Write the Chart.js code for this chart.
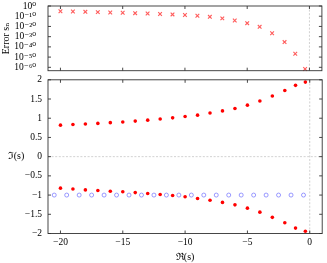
<!DOCTYPE html>
<html><head><meta charset="utf-8">
<script src="https://cdn.jsdelivr.net/npm/chart.js@4"></script>
<style>
html,body{margin:0;padding:0;background:#fff;}
#wrap{position:relative;width:327px;height:263px;overflow:hidden;background:#fff}
#c1{position:absolute;left:0;top:0}
#c2{position:absolute;left:0;top:75px}
</style></head><body>
<div id="wrap"><canvas id="c1" width="327" height="78"></canvas><canvas id="c2" width="327" height="188"></canvas></div>
<script>
// ---- data ----
const zeroRe = [-20,-19,-18,-17,-16,-15,-14,-13,-12,-11,-10,-9,-8,-7,-6,-5,-4,-3,-2,-1.14,-0.35];
const errVals = [8e-6,4e-6,2e-6,1e-6,5e-7,2.5e-7,1e-7,4e-8,1.6e-8,6e-9,1.6e-9,2.5e-10,2.5e-11,8e-13,6e-15,1.6e-17,4e-21,2.5e-27,5e-36,2e-47,2.5e-62];
const imUpper = [0.82,0.835,0.85,0.865,0.885,0.9,0.925,0.95,0.98,1.01,1.045,1.08,1.135,1.19,1.255,1.34,1.45,1.58,1.72,1.855,1.94];
const imLower = [-0.82,-0.84,-0.865,-0.88,-0.9,-0.915,-0.935,-0.96,-0.985,-1.01,-1.045,-1.09,-1.135,-1.19,-1.255,-1.34,-1.445,-1.58,-1.72,-1.86,-1.94];
const trivialRe = [-20.5,-19.5,-18.5,-17.5,-16.5,-15.5,-14.5,-13.5,-12.5,-11.5,-10.5,-9.5,-8.5,-7.5,-6.5,-5.5,-4.5,-3.5,-2.5,-1.5,-0.5];
const trivialIm = [-1,-1,-1,-1,-1,-1,-1,-1,-1,-1,-1,-1,-1,-1,-1,-1,-1,-1,-1,-1,-1];
const xTicks = [-20,-15,-10,-5,0];
const yTicks = [-2,-1.5,-1,-0.5,0,0.5,1,1.5,2];
const errExpTicks = [0,-10,-20,-30,-40,-50,-60];
const errTickLabels = ['10⁰','10⁻¹⁰','10⁻²⁰','10⁻³⁰','10⁻⁴⁰','10⁻⁵⁰','10⁻⁶⁰'];
const xRange = [-21, 1];
const yRange = [-2, 2];
const errRangeExp = [-63.3, 0];

const FAM = "'Liberation Serif','DejaVu Serif',serif";
const tickFont = {family: FAM, size: 9.5};
const fmt = v => (v < 0 ? '\u2212' + Math.abs(v) : String(v));

Chart.defaults.color = '#000';

function line(ctx,x1,y1,x2,y2){ctx.beginPath();ctx.moveTo(x1,y1);ctx.lineTo(x2,y2);ctx.stroke();}
function noPad(s){ s.paddingTop = 0; s.paddingBottom = 0; s.paddingLeft = 0; s.paddingRight = 0; }

const framePlugin = {
  id: 'frame',
  beforeDatasetsDraw(chart, args, opts) {
    const {ctx, chartArea: a, scales} = chart;
    ctx.save();
    ctx.strokeStyle = '#bdbdbd'; ctx.lineWidth = 0.7; ctx.setLineDash([2, 1.6]);
    const x0 = scales.x.getPixelForValue(0);
    line(ctx, x0, a.top, x0, a.bottom);
    if (opts.hZero) { const y0 = scales.y.getPixelForValue(0); line(ctx, a.left, y0, a.right, y0); }
    ctx.restore();
  },
  afterDatasetsDraw(chart, args, opts) {
    const {ctx, chartArea: a, scales} = chart;
    ctx.save();
    ctx.strokeStyle = '#333'; ctx.lineWidth = 0.9;
    ctx.strokeRect(a.left, a.top, a.right - a.left, a.bottom - a.top);
    const L = 3;
    scales.x.ticks.forEach(t => { const p = scales.x.getPixelForValue(t.value); line(ctx,p,a.bottom,p,a.bottom-L); line(ctx,p,a.top,p,a.top+L); });
    scales.y.ticks.forEach(t => { const p = scales.y.getPixelForValue(t.value); line(ctx,a.left,p,a.left+L,p); line(ctx,a.right,p,a.right-L,p); });
    if (opts.sideLabel) {
      ctx.fillStyle = '#000'; ctx.font = "10px " + FAM; ctx.textAlign = 'center'; ctx.textBaseline = 'middle';
      ctx.fillText(opts.sideLabel, 16, scales.y.getPixelForValue(0));
    }
    ctx.restore();
  }
};

new Chart(document.getElementById('c1'), {
  type: 'scatter',
  data: { datasets: [{
    data: zeroRe.map((x, i) => ({x, y: errVals[i]})),
    pointStyle: 'crossRot', pointRadius: 2.6, borderColor: 'rgba(255,50,50,0.8)', borderWidth: 1.1,
    backgroundColor: 'rgba(255,50,50,0.8)', clip: false
  }]},
  options: {
    responsive: false, animation: false, devicePixelRatio: 1,
    layout: {padding: {top: 6, right: 1, bottom: 7.3, left: 0}},
    plugins: {legend: {display: false}, tooltip: {enabled: false}, frame: {hZero: false}},
    scales: {
      x: {type: 'linear', min: xRange[0], max: xRange[1],
          afterBuildTicks(s){ s.ticks = xTicks.map(v => ({value: v})); },
          ticks: {display: false}, grid: {display: false, drawTicks: false}, border: {display: false},
          afterFit(s){ s.height = 0; noPad(s); }},
      y: {type: 'logarithmic', min: Math.pow(10, errRangeExp[0]), max: Math.pow(10, errRangeExp[1]),
          afterBuildTicks(s){ s.ticks = errExpTicks.map(e => ({value: Math.pow(10, e)})); },
          ticks: {font: tickFont, color: '#000', padding: 12, autoSkip: false, callback: (v, i) => errTickLabels[i]},
          grid: {display: false, drawTicks: false}, border: {display: false},
          title: {display: true, text: 'Error sₙ', font: {family: FAM, size: 10}, padding: 0, color: '#000'},
          afterFit(s){ s.width = 48; noPad(s); }}
    }
  },
  plugins: [framePlugin]
});

new Chart(document.getElementById('c2'), {
  type: 'scatter',
  data: { datasets: [
    {data: zeroRe.map((x, i) => ({x, y: imUpper[i]})), pointStyle: 'circle', pointRadius: 1.8, borderWidth: 0,
     backgroundColor: '#ff0000', clip: false},
    {data: zeroRe.map((x, i) => ({x, y: imLower[i]})), pointStyle: 'circle', pointRadius: 1.8, borderWidth: 0,
     backgroundColor: '#ff0000', clip: false},
    {data: trivialRe.map((x, i) => ({x, y: trivialIm[i]})), pointStyle: 'circle', pointRadius: 2, borderWidth: 0.8,
     borderColor: '#7f7fff', backgroundColor: 'rgba(0,0,0,0)', clip: false}
  ]},
  options: {
    responsive: false, animation: false, devicePixelRatio: 1,
    layout: {padding: {top: 4.5, right: 1, bottom: 0, left: 0}},
    plugins: {legend: {display: false}, tooltip: {enabled: false}, frame: {hZero: true, sideLabel: 'ℑ(s)'}},
    scales: {
      x: {type: 'linear', min: xRange[0], max: xRange[1],
          afterBuildTicks(s){ s.ticks = xTicks.map(v => ({value: v})); },
          ticks: {font: tickFont, color: '#000', padding: 3.5, maxRotation: 0, autoSkip: false, callback: v => fmt(v)},
          grid: {display: false, drawTicks: false}, border: {display: false},
          title: {display: true, text: 'ℜ(s)', font: {family: FAM, size: 10}, padding: 0, color: '#000'},
          afterFit(s){ s.height = 29.5; noPad(s); }},
      y: {type: 'linear', min: yRange[0], max: yRange[1],
          afterBuildTicks(s){ s.ticks = yTicks.map(v => ({value: v})); },
          ticks: {font: tickFont, color: '#000', padding: 6, autoSkip: false, callback: v => fmt(v)},
          grid: {display: false, drawTicks: false}, border: {display: false},
          afterFit(s){ s.width = 48; noPad(s); }}
    }
  },
  plugins: [framePlugin]
});
</script>
</body></html>
